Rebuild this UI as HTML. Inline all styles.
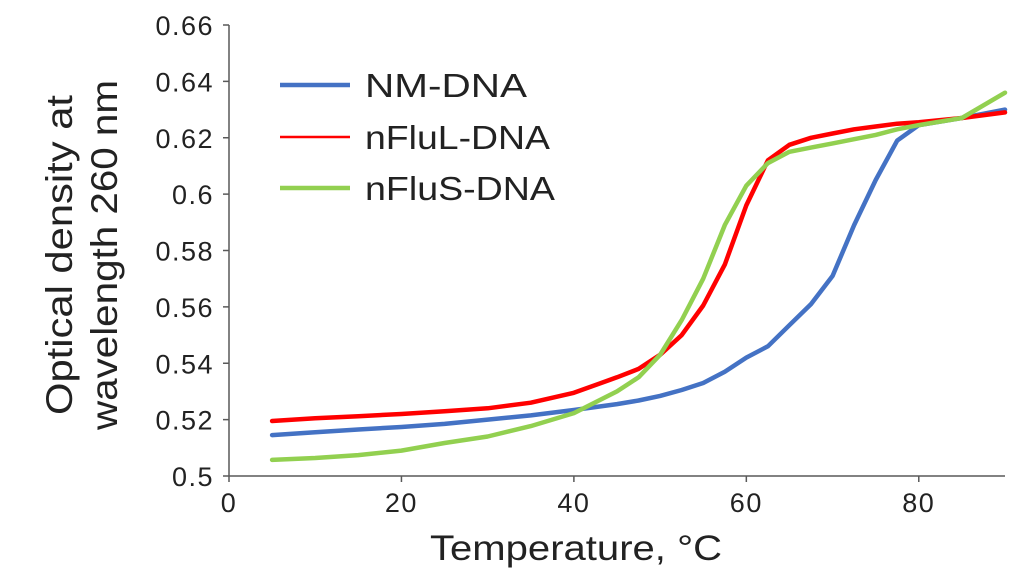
<!DOCTYPE html>
<html><head><meta charset="utf-8"><style>
body{margin:0;background:#fff;}
svg{display:block;font-family:"Liberation Sans",sans-serif;}
</style></head><body>
<svg id="chart" width="1033" height="585" viewBox="0 0 1033 585"></svg>
<script>
const temps=[5,10,15,20,25,30,35,40,45,47.5,50,52.5,55,57.5,60,62.5,65,67.5,70,72.5,75,77.5,80,85,90];
const nmDna=[0.5145,0.5155,0.5165,0.5174,0.5185,0.520,0.5215,0.5234,0.5255,0.5268,0.5284,0.5305,0.533,0.537,0.542,0.546,0.5535,0.561,0.571,0.589,0.605,0.619,0.6245,0.627,0.630];
const nfluLDna=[0.5195,0.5205,0.5212,0.522,0.523,0.524,0.526,0.5295,0.535,0.538,0.543,0.550,0.5605,0.575,0.596,0.612,0.6175,0.620,0.6215,0.623,0.624,0.625,0.6255,0.627,0.629];
const nfluSDna=[0.5057,0.5064,0.5074,0.509,0.5117,0.514,0.5177,0.5223,0.530,0.535,0.543,0.5553,0.570,0.589,0.603,0.611,0.615,0.6165,0.618,0.6195,0.621,0.623,0.6245,0.627,0.636];
const xTicks=[0,20,40,60,80];
const yTicks=[0.5,0.52,0.54,0.56,0.58,0.6,0.62,0.64,0.66];
const yTickLabels=["0.5","0.52","0.54","0.56","0.58","0.6","0.62","0.64","0.66"];
const seriesNames=["NM-DNA","nFluL-DNA","nFluS-DNA"];
const seriesColors=["#4472c4","#ff0000","#92d050"];
const seriesWidths=[4.5,4.5,4.5];

const NS="http://www.w3.org/2000/svg";
const svg=document.getElementById('chart');
const X0=229,X1=1005,Y0=476,Y1=25;
const xs=t=>X0+(t-0)/(90-0)*(X1-X0);
const ys=v=>Y0-(v-0.5)/(0.66-0.5)*(Y0-Y1);
function mk(tag,attrs,parent){const e=document.createElementNS(NS,tag);for(const k in attrs)e.setAttribute(k,attrs[k]);(parent||svg).appendChild(e);return e;}

const xAxis=mk('line',{x1:X0,y1:Y0,x2:X1,y2:Y0,stroke:'#595959','stroke-width':1.5});


const yAxis=mk('line',{x1:X0,y1:Y0,x2:X0,y2:Y1,stroke:'#595959','stroke-width':1.5});



xTicks.forEach(t=>{
  const tk=mk('line',{x1:xs(t),y1:Y0,x2:xs(t),y2:Y0+6,stroke:'#595959','stroke-width':1.5});
  
  
  const tx=mk('text',{x:xs(t),y:Y0+36,'text-anchor':'middle','font-size':27,'letter-spacing':1.5,fill:'#222'});
  tx.textContent=t;
  
  
});
yTicks.forEach((v,i)=>{
  const tk=mk('line',{x1:X0-6,y1:ys(v),x2:X0,y2:ys(v),stroke:'#595959','stroke-width':1.5});
  
  
  const tx=mk('text',{x:X0-15,y:ys(v)+10,'text-anchor':'end','font-size':27,'letter-spacing':1.5,fill:'#222'});
  tx.textContent=yTickLabels[i];
  
  
});

[nmDna,nfluLDna,nfluSDna].forEach((vals,si)=>{
  const d=vals.map((v,i)=>(i?'L':'M')+xs(temps[i]).toFixed(1)+','+ys(v).toFixed(1)).join(' ');
  const p=mk('path',{d:d,fill:'none',stroke:seriesColors[si],'stroke-width':seriesWidths[si],'stroke-linejoin':'round','stroke-linecap':'round'});
  
  
});

const legendY=[85,137,188];
const legendLen=[162,185,190];
seriesNames.forEach((n,i)=>{
  const g=mk('g',{});
  
  
  mk('line',{x1:280,y1:legendY[i],x2:350,y2:legendY[i],stroke:seriesColors[i],'stroke-width':i==1?2.5:4.5},g);
  const t=mk('text',{x:365,y:legendY[i]+12,'font-size':33,fill:'#222',textLength:legendLen[i],lengthAdjust:'spacingAndGlyphs'},g);
  t.textContent=n;
});

const xt=mk('text',{x:430,y:560,'font-size':35,fill:'#222',textLength:292,lengthAdjust:'spacingAndGlyphs'});
xt.textContent='Temperature, °C';


const yt=mk('text',{transform:'translate(72,255) rotate(-90)','text-anchor':'middle','font-size':37,fill:'#222'});


const t1=mk('tspan',{x:0,y:0,textLength:320,lengthAdjust:'spacingAndGlyphs'},yt);t1.textContent='Optical density at';
const t2=mk('tspan',{x:0,y:45,textLength:350,lengthAdjust:'spacingAndGlyphs'},yt);t2.textContent='wavelength 260 nm';
</script>
</body></html>
